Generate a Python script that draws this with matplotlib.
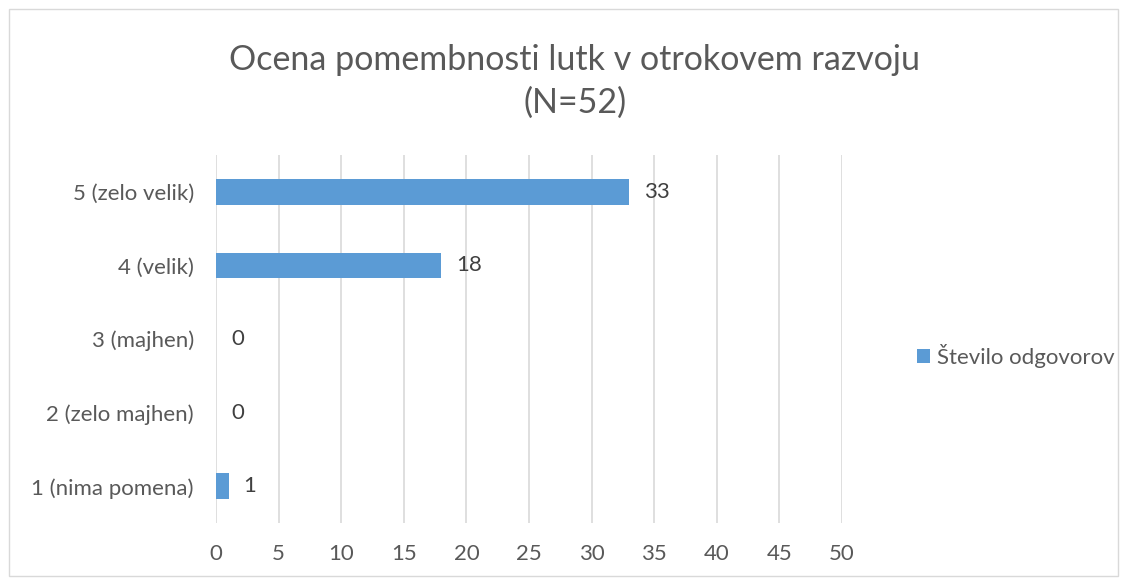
import matplotlib.pyplot as plt
from matplotlib.patches import Rectangle

categories = ['1 (nima pomena)', '2 (zelo majhen)', '3 (majhen)', '4 (velik)', '5 (zelo velik)']
values = [1, 0, 0, 18, 33]
xticks = [0, 5, 10, 15, 20, 25, 30, 35, 40, 45, 50]

plt.rcParams['font.family'] = ['Lato', 'DejaVu Sans']
fig = plt.figure(figsize=(11.27, 5.79), dpi=100)
fig.add_artist(Rectangle((0.008, 0.006), 0.984, 0.978, transform=fig.transFigure,
                         fill=False, edgecolor='#d9d9d9', linewidth=1))
ax = fig.add_axes([0.1917, 0.0967, 0.5554, 0.6356])

bars = ax.barh(range(len(categories)), values, height=0.35, color='#5b9bd5',
               label='Število odgovorov', zorder=3)
for i, v in enumerate(values):
    ax.text(v + 1.2, i, str(v), va='center', ha='left', fontsize=16, color='#404040')

ax.set_xlim(0, 50)
ax.set_ylim(-0.5, 4.5)
ax.set_xticks(xticks)
ax.set_yticks(range(len(categories)))
ax.set_yticklabels(categories)
ax.tick_params(axis='both', length=0, labelsize=16, labelcolor='#595959')
ax.tick_params(axis='x', pad=15)
ax.tick_params(axis='y', pad=16)
ax.grid(axis='x', color='#d9d9d9', linewidth=1.2, zorder=0)
for s in ax.spines.values():
    s.set_visible(False)

fig.text(0.51, 0.86, 'Ocena pomembnosti lutk v otrokovem razvoju\n(N=52)',
         ha='center', va='center', fontsize=24.5, color='#595959', linespacing=1.4)

fig.legend(loc='center left', bbox_to_anchor=(0.796, 0.385), frameon=False,
           fontsize=16, labelcolor='#595959', handlelength=0.6, handleheight=0.6,
           handletextpad=0.3)

fig.savefig('out.png', dpi=100)
